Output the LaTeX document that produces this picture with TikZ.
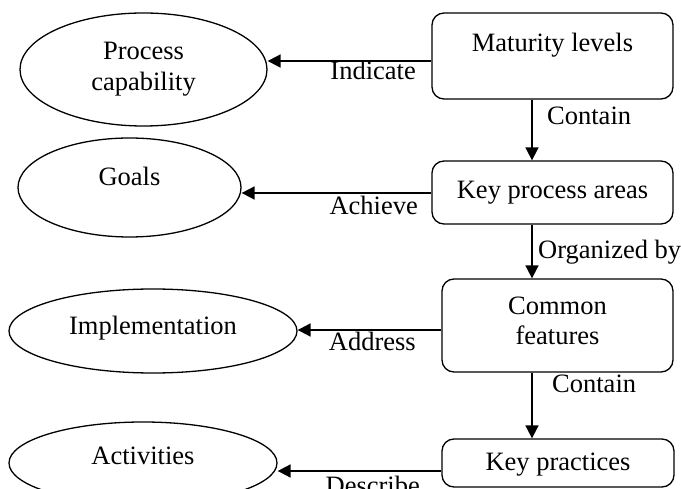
\documentclass[tikz,border=0pt]{standalone}
\usepackage{fontspec}
\setmainfont{Liberation Serif}
\usetikzlibrary{arrows.meta,shapes.geometric}
\begin{document}
\begin{tikzpicture}[x=1pt,y=-1pt,
  every node/.style={font=\fontsize{26.5}{31}\selectfont, inner sep=0pt},
  rbox/.style={draw, line width=1.3pt, rounded corners=12pt, align=center, text height=18pt},
  oval/.style={draw, ellipse, line width=1.3pt, align=center, text height=18pt},
  arr/.style={line width=1.8pt, -{Triangle[length=13pt,width=13pt]}},
  lbl/.style={}]
\useasboundingbox (0,0) rectangle (681,489);
\clip (0,0) rectangle (681,489);
% boxes
\node[rbox, minimum width=241pt, minimum height=86pt, text depth=26pt] (ml) at (552.5,56) {Maturity levels};
\node[rbox, minimum width=241pt, minimum height=63pt, text depth=5pt] (kpa) at (552.5,192.5) {Key process areas};
\node[rbox, minimum width=231pt, minimum height=93pt, text height=45pt, text depth=6pt] (cf) at (557.5,325.5) {Common\\features};
\node[rbox, minimum width=232pt, minimum height=48pt, text depth=2pt] (kp) at (558,463) {Key practices};
% ellipses
\node[oval, minimum width=247pt, minimum height=113pt, text height=49pt, text depth=6pt] (pc) at (143.5,69.5) {Process\\capability};
\node[oval, minimum width=223pt, minimum height=99pt, text depth=22pt] (go) at (129.5,187.5) {Goals};
\node[oval, minimum width=288pt, minimum height=84pt, text depth=11pt] (im) at (153,331) {Implementation};
\node[oval, minimum width=268pt, minimum height=82pt, text depth=15pt] (ac) at (143,463) {Activities};
% helper coordinates
\coordinate (vx) at (532,0);
\coordinate (h1) at (0,61);
\coordinate (h2) at (0,193);
\coordinate (h3) at (0,330);
\coordinate (h4) at (0,471);
% vertical connectors
\draw[arr] (ml.south -| vx) -- (kpa.north -| vx);
\draw[arr] (kpa.south -| vx) -- (cf.north -| vx);
\draw[arr] (cf.south -| vx) -- (kp.north -| vx);
% horizontal connectors
\draw[arr] (ml.west |- h1) -- (pc.east |- h1);
\draw[arr] (kpa.west |- h2) -- (go.east |- h2);
\draw[arr] (cf.west |- h3) -- (im.east |- h3);
\draw[arr] (kp.west |- h4) -- (ac.east |- h4);
% labels
\node[lbl, anchor=base east] (t1) at (416,80) {Indicate};
\node[lbl, anchor=base west] (t2) at (547,125) {Contain};
\node[lbl, anchor=base east] (t3) at (418,215) {Achieve};
\node[lbl, anchor=base west] (t4) at (538,259) {Organized by};
\node[lbl, anchor=base east] (t5) at (416,351) {Address};
\node[lbl, anchor=base west] (t6) at (552,392) {Contain};
\node[lbl, anchor=base east] (t7) at (420,494) {Describe};
\end{tikzpicture}
\end{document}
